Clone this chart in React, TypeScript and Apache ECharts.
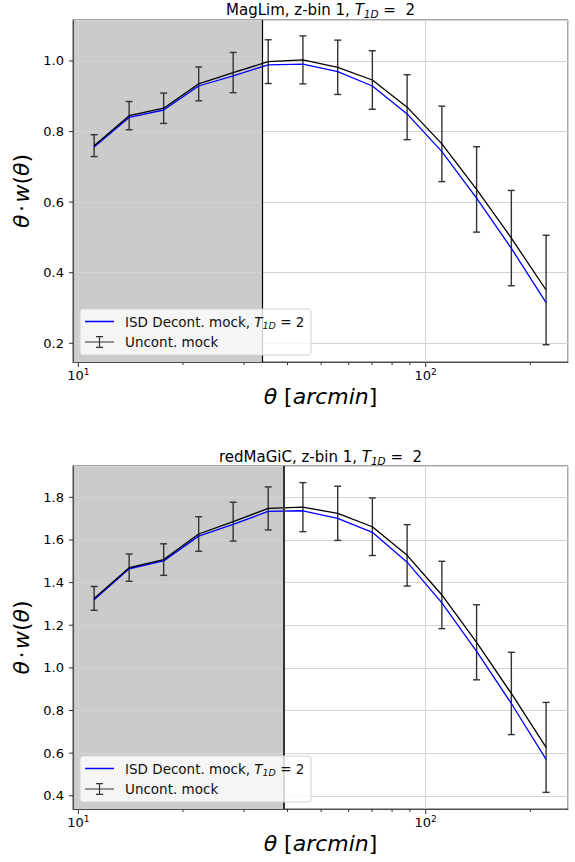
import { useEffect, useRef } from 'react'
import * as echarts from 'echarts'

// angular bins (arcmin), shared by both panels
const THETA = [11.1, 14.0, 17.6, 22.2, 27.9, 35.2, 44.3, 55.8, 70.2, 88.4, 111.3, 140.1, 176.4, 222.1]

// MagLim, z-bin 1
const MAGLIM_UNCONT = [0.760, 0.845, 0.866, 0.935, 0.967, 0.998, 1.003, 0.982, 0.946, 0.869, 0.765, 0.636, 0.498, 0.351]
const MAGLIM_ERR = [0.031, 0.040, 0.043, 0.048, 0.057, 0.062, 0.068, 0.077, 0.083, 0.092, 0.107, 0.121, 0.135, 0.155]
const MAGLIM_DECONT = [0.756, 0.840, 0.861, 0.929, 0.958, 0.989, 0.991, 0.970, 0.929, 0.850, 0.743, 0.611, 0.469, 0.315]

// redMaGiC, z-bin 1
const REDMAGIC_UNCONT = [1.326, 1.470, 1.508, 1.628, 1.686, 1.748, 1.754, 1.725, 1.662, 1.528, 1.342, 1.120, 0.880, 0.627]
const REDMAGIC_ERR = [0.056, 0.064, 0.074, 0.081, 0.091, 0.101, 0.115, 0.127, 0.135, 0.144, 0.158, 0.176, 0.193, 0.211]
const REDMAGIC_DECONT = [1.320, 1.465, 1.502, 1.618, 1.673, 1.734, 1.737, 1.701, 1.636, 1.496, 1.305, 1.077, 0.833, 0.571]

// ticks
const X_MAJOR = [10, 100]
const X_MINOR = [20, 30, 40, 50, 60, 70, 80, 90, 200]
const Y_TICKS_MAGLIM = [0.2, 0.4, 0.6, 0.8, 1.0]
const Y_TICKS_REDMAGIC = [0.4, 0.6, 0.8, 1.0, 1.2, 1.4, 1.6, 1.8]

// scale-cut limits (shaded region ends here)
const SHADE_MAGLIM = 33.9
const SHADE_REDMAGIC = 39.1

const X_MIN = 9.65
const X_MAX = 256.8

const FONT = 'DejaVu Sans'
const ISD_NAME = 'ISD Decont. mock, T1D = 2'
const UNC_NAME = 'Uncont. mock'
const ERRBAR_ICON = 'path://M0,5.4h29v1.2h-29z M13.9,0h1.2v12h-1.2z M11,0h7v1.2h-7z M11,10.8h7v1.2h-7z'

const subRich = {
  i: { fontStyle: 'italic', fontFamily: FONT },
  sub: { fontStyle: 'italic', fontFamily: FONT, fontSize: 9.5, lineHeight: 9.5, verticalAlign: 'bottom' },
}

const PANELS = [
  {
    name: 'MagLim',
    top: 20,
    height: 342,
    yMin: 0.147,
    yMax: 1.116,
    split: 5,
    yTicks: Y_TICKS_MAGLIM,
    shade: SHADE_MAGLIM,
    shadeLine: '#000',
    shadeLineWidth: 1.2,
    uncont: MAGLIM_UNCONT,
    err: MAGLIM_ERR,
    decont: MAGLIM_DECONT,
    titleTop: 1,
    boxTop: 309,
  },
  {
    name: 'redMaGiC',
    top: 466,
    height: 343,
    yMin: 0.338,
    yMax: 1.947,
    split: 8,
    yTicks: Y_TICKS_REDMAGIC,
    shade: SHADE_REDMAGIC,
    shadeLine: '#333',
    shadeLineWidth: 2,
    uncont: REDMAGIC_UNCONT,
    err: REDMAGIC_ERR,
    decont: REDMAGIC_DECONT,
    titleTop: 448,
    boxTop: 756,
  },
]

function errorBarItem(_params: any, api: any) {
  const x = api.value(0)
  const y = api.value(1)
  const e = api.value(2)
  const hi = api.coord([x, y + e])
  const lo = api.coord([x, y - e])
  const cap = 3.5
  const style = { stroke: '#333', lineWidth: 1.4 }
  return {
    type: 'group',
    children: [
      { type: 'line', shape: { x1: hi[0], y1: hi[1], x2: lo[0], y2: lo[1] }, style },
      { type: 'line', shape: { x1: hi[0] - cap, y1: hi[1], x2: hi[0] + cap, y2: hi[1] }, style },
      { type: 'line', shape: { x1: lo[0] - cap, y1: lo[1], x2: lo[0] + cap, y2: lo[1] }, style },
    ],
  }
}

// tick marks: [x, y, length, direction(0 = down, 1 = left)]
function tickItem(_params: any, api: any) {
  const p = api.coord([api.value(0), api.value(1)])
  const len = api.value(2)
  const down = api.value(3) === 0
  return {
    type: 'line',
    shape: { x1: p[0], y1: p[1], x2: down ? p[0] : p[0] - len, y2: down ? p[1] + len : p[1] },
    style: { stroke: '#333', lineWidth: 1 },
  }
}

function isDecade(v: number) {
  const l = Math.log10(v)
  return Math.abs(l - Math.round(l)) < 1e-6
}

function buildOption(): any {
  const grid: any[] = []
  const xAxis: any[] = []
  const yAxis: any[] = []
  const series: any[] = []
  const title: any[] = []
  const legend: any[] = []
  const graphic: any[] = []

  PANELS.forEach((p, gi) => {
    grid.push({
      left: 73,
      top: p.top,
      width: 495,
      height: p.height,
      show: true,
      borderColor: '#4d4d4d',
      borderWidth: 1,
      backgroundColor: 'transparent',
    })

    xAxis.push({
      gridIndex: gi,
      type: 'log',
      logBase: 10,
      min: X_MIN,
      max: X_MAX,
      z: 1.5,
      axisLine: { show: true, onZero: false, lineStyle: { color: '#4d4d4d', width: 1 } },
      axisTick: { show: false },
      splitLine: { show: true, lineStyle: { color: '#d3d3d3', width: 1 } },
      axisLabel: {
        margin: 5,
        fontSize: 13,
        lineHeight: 16,
        fontFamily: FONT,
        color: '#000',
        formatter: (v: number) => (isDecade(v) ? '10{sup|' + Math.round(Math.log10(v)) + '}' : ''),
        rich: { sup: { fontSize: 9, lineHeight: 9, verticalAlign: 'top', fontFamily: FONT, color: '#000' } },
      },
      name: '{i|θ}{n| [}{i|arcmin}{n|]}',
      nameLocation: 'middle',
      nameGap: 17,
      nameTextStyle: {
        fontSize: 22,
        lineHeight: 26,
        fontFamily: FONT,
        color: '#000',
        rich: {
          i: { fontSize: 22, fontStyle: 'italic', fontFamily: FONT, color: '#000' },
          n: { fontSize: 22, fontFamily: FONT, color: '#000' },
        },
      },
    })

    yAxis.push({
      gridIndex: gi,
      type: 'value',
      min: p.yMin,
      max: p.yMax,
      splitNumber: p.split,
      z: 1.5,
      axisLine: { show: true, onZero: false, lineStyle: { color: '#4d4d4d', width: 1 } },
      axisTick: { show: false },
      splitLine: { show: true, lineStyle: { color: '#d3d3d3', width: 1 } },
      axisLabel: {
        margin: 9,
        fontSize: 13,
        fontFamily: FONT,
        color: '#000',
        formatter: (v: number) => (Math.abs(v / 0.2 - Math.round(v / 0.2)) < 1e-6 ? v.toFixed(1) : ''),
      },
      name: '{i|θ}{s| }{n|·}{s| }{i|w}{n|(}{i|θ}{n|)}',
      nameLocation: 'middle',
      nameRotate: 90,
      nameGap: 34,
      nameTextStyle: {
        fontSize: 22,
        fontFamily: FONT,
        color: '#000',
        rich: {
          i: { fontSize: 22, fontStyle: 'italic', fontFamily: FONT, color: '#000' },
          n: { fontSize: 22, fontFamily: FONT, color: '#000' },
          s: { fontSize: 8, fontFamily: FONT, color: '#000' },
        },
      },
    })

    title.push({
      text: p.name + ', z-bin 1, {i|T}{sub|1D}{n| =  2}',
      left: 320.5,
      top: p.titleTop,
      textAlign: 'center',
      padding: 0,
      textStyle: {
        fontSize: 15,
        lineHeight: 18,
        fontWeight: 'normal',
        fontFamily: FONT,
        color: '#000',
        rich: {
          i: { fontSize: 15, fontStyle: 'italic', fontFamily: FONT, color: '#000' },
          sub: { fontSize: 10.5, lineHeight: 10, fontStyle: 'italic', verticalAlign: 'bottom', fontFamily: FONT, color: '#000' },
          n: { fontSize: 15, fontFamily: FONT, color: '#000' },
        },
      },
    })

    series.push({
      type: 'line',
      name: ISD_NAME,
      xAxisIndex: gi,
      yAxisIndex: gi,
      symbol: 'none',
      silent: true,
      color: '#0000ff',
      lineStyle: { color: '#0000ff', width: 1.3 },
      data: THETA.map((t, i) => [t, p.decont[i]]),
      markArea: {
        silent: true,
        itemStyle: { color: '#cbcbcb' },
        data: [[{ xAxis: X_MIN }, { xAxis: p.shade }]],
      },
      markLine: {
        silent: true,
        symbol: ['none', 'none'],
        label: { show: false },
        lineStyle: { color: p.shadeLine, width: p.shadeLineWidth, type: 'solid' },
        data: [{ xAxis: p.shade }],
      },
    })

    series.push({
      type: 'line',
      name: UNC_NAME,
      xAxisIndex: gi,
      yAxisIndex: gi,
      symbol: 'none',
      silent: true,
      color: '#000',
      lineStyle: { color: '#000', width: 1.3 },
      data: THETA.map((t, i) => [t, p.uncont[i]]),
    })

    series.push({
      type: 'custom',
      name: 'err' + gi,
      xAxisIndex: gi,
      yAxisIndex: gi,
      silent: true,
      renderItem: errorBarItem,
      encode: { x: 0, y: 1 },
      data: THETA.map((t, i) => [t, p.uncont[i], p.err[i]]),
    })

    const ticks = [
      ...X_MAJOR.map((v) => [v, p.yMin, 5, 0]),
      ...X_MINOR.map((v) => [v, p.yMin, 3, 0]),
      ...p.yTicks.map((v) => [X_MIN, v, 4, 1]),
    ]
    series.push({
      type: 'custom',
      name: 'ticks' + gi,
      xAxisIndex: gi,
      yAxisIndex: gi,
      silent: true,
      clip: false,
      renderItem: tickItem,
      encode: { x: 0, y: 1 },
      data: ticks,
    })

    graphic.push({
      type: 'rect',
      z: 50,
      silent: true,
      shape: { x: 80, y: p.boxTop, width: 231, height: 46, r: 3 },
      style: { fill: 'rgba(255,255,255,0.8)', stroke: '#d4d4d4', lineWidth: 1 },
    })

    const legendText = {
      fontSize: 13.5,
      lineHeight: 17,
      fontFamily: FONT,
      color: '#111',
      padding: [0, 0, 0, 6],
      rich: subRich,
    }
    legend.push({
      z: 60,
      left: 85,
      top: p.boxTop + 12.5 - 8.5,
      padding: 0,
      selectedMode: false,
      icon: 'rect',
      itemWidth: 29,
      itemHeight: 1.5,
      itemStyle: { borderWidth: 0 },
      data: [ISD_NAME],
      formatter: () => 'ISD Decont. mock, {i|T}{sub|1D} = 2',
      textStyle: legendText,
    })
    legend.push({
      z: 60,
      left: 85,
      top: p.boxTop + 33 - 8.5,
      padding: 0,
      selectedMode: false,
      icon: ERRBAR_ICON,
      itemWidth: 29,
      itemHeight: 12,
      itemStyle: { borderWidth: 0, color: '#333' },
      data: [UNC_NAME],
      textStyle: legendText,
    })
  })

  return {
    animation: false,
    backgroundColor: '#fff',
    title,
    legend,
    grid,
    xAxis,
    yAxis,
    series,
    graphic: { elements: graphic },
  }
}

function ThetaWChart() {
  const chartRef = useRef<HTMLDivElement>(null)

  useEffect(() => {
    const chart = echarts.init(chartRef.current, null, { renderer: 'svg' })
    chart.setOption(buildOption())
    return () => {
      chart.dispose()
    }
  }, [])

  return (
    <div
      ref={chartRef}
      style={{ position: 'absolute', left: 0, top: 0, width: '575px', height: '862px', background: '#fff' }}
    ></div>
  )
}

export default function App() {
  return <ThetaWChart />
}
